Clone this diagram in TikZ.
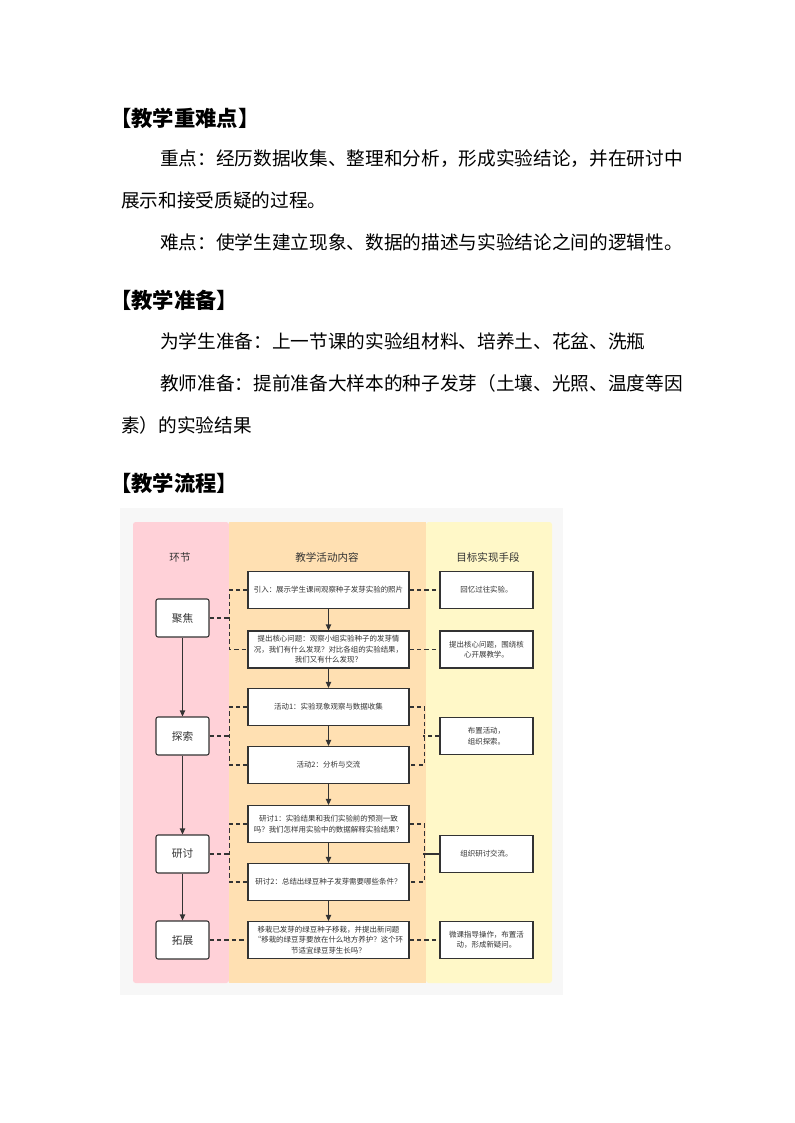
\documentclass[tikz,border=0pt]{standalone}
\usepackage{fontspec}
\setmainfont{Noto Sans CJK SC}
\usepackage{tikz}
\usetikzlibrary{arrows.meta}
\definecolor{pinkcol}{HTML}{FFD1D8}
\definecolor{peachcol}{HTML}{FFE0B2}
\definecolor{lemoncol}{HTML}{FFF8C8}
\definecolor{paneback}{HTML}{F7F7F7}
\definecolor{inkdark}{HTML}{333333}
\tikzset{
  heading/.style={anchor=west,inner sep=0pt,font=\fontsize{16}{16}\selectfont\bfseries},
  bodyline/.style={anchor=west,inner sep=0pt,font=\fontsize{14}{14}\selectfont},
  colhead/.style={inner sep=0pt,text=inkdark,font=\fontsize{7.9}{8}\selectfont},
  stagebox/.style={draw=inkdark,fill=white,rounded corners=1.5pt,line width=0.8pt,
    minimum width=39.75pt,minimum height=28.5pt,text=inkdark,font=\fontsize{8}{8}\selectfont},
  actbox/.style={draw=inkdark,fill=white,line width=0.8pt,align=center,inner sep=1pt,
    minimum width=120.75pt,minimum height=27.75pt,text=inkdark,font=\fontsize{5.6}{7.8}\selectfont},
  goalbox/.style={actbox,minimum width=69.75pt},
  flow/.style={-{Triangle[length=4.5pt,width=4pt]},inkdark,line width=0.8pt},
  link/.style={inkdark,line width=0.8pt,dash pattern=on 3.2pt off 2.4pt},
}

\begin{document}
\begin{tikzpicture}[x=0.75pt,y=-0.75pt]
  % pixel grid of the page, y runs down
  \useasboundingbox (0,0) rectangle (794,1123);
  \fill[white] (0,0) rectangle (794,1123);

  \node[heading] (hkey) at (110,118) {【教学重难点】};
  \node[bodyline] (key1) at (160,159) {重点：经历数据收集、整理和分析，形成实验结论，并在研讨中};
  \node[bodyline] (key2) at (121,200) {展示和接受质疑的过程。};
  \node[bodyline] (key3) at (160,242) {难点：使学生建立现象、数据的描述与实验结论之间的逻辑性。};
  \node[heading] (hprep) at (110,300) {【教学准备】};
  \node[bodyline] (prep1) at (160,341) {为学生准备：上一节课的实验组材料、培养土、花盆、洗瓶};
  \node[bodyline] (prep2) at (160,383) {教师准备：提前准备大样本的种子发芽（土壤、光照、温度等因};
  \node[bodyline] (prep3) at (121,425) {素）的实验结果};
  \node[heading] (hflow) at (110,483) {【教学流程】};

  % lanes
  \fill[paneback] (120,508) rectangle (563,995);
  \fill[pinkcol,rounded corners=2pt] (133,522) rectangle (229,983);
  \fill[peachcol] (229,522) rectangle (426,983);
  \fill[lemoncol,rounded corners=2pt] (426,522) rectangle (552,983);

  \node[colhead] (hstage) at (180,557) {环节};
  \node[colhead] (hact) at (327,557) {教学活动内容};
  \node[colhead] (hgoal) at (488,557) {目标实现手段};

  \node[stagebox] (s1) at (182.5,618) {聚焦};
  \node[stagebox] (s2) at (182.5,736) {探索};
  \node[stagebox] (s3) at (182.5,854) {研讨};
  \node[stagebox] (s4) at (182.5,940) {拓展};

  \node[actbox] (m1) at (328.5,590) {引入：展示学生课间观察种子发芽实验的照片};
  \node[actbox] (m2) at (328.5,649.5) {提出核心问题：观察小组实验种子的发芽情\\况，我们有什么发现？对比各组的实验结果，\\我们又有什么发现？};
  \node[actbox] (m3) at (328.5,707) {活动1：实验现象观察与数据收集};
  \node[actbox] (m4) at (328.5,765) {活动2：分析与交流};
  \node[actbox] (m5) at (328.5,824) {研讨1：实验结果和我们实验前的预测一致\\吗？我们怎样用实验中的数据解释实验结果？};
  \node[actbox] (m6) at (328.5,882) {研讨2：总结出绿豆种子发芽需要哪些条件？};
  \node[actbox] (m7) at (328.5,940) {移栽已发芽的绿豆种子移栽，并提出新问题\\“移栽的绿豆芽要放在什么地方养护？这个环\\节适宜绿豆芽生长吗？};

  \node[goalbox] (r1) at (486.5,590) {回忆过往实验。};
  \node[goalbox] (r2) at (486.5,649.5) {提出核心问题，围绕核\\心开展教学。};
  \node[goalbox] (r3) at (486.5,736) {布置活动，\\组织探索。};
  \node[goalbox] (r4) at (486.5,854) {组织研讨交流。};
  \node[goalbox] (r5) at (486.5,940) {微课指导操作，布置活\\动，形成新疑问。};

  \draw[flow] (s1) -- (s2);
  \draw[flow] (s2) -- (s3);
  \draw[flow] (s3) -- (s4);
  \foreach \a/\b in {m1/m2,m2/m3,m3/m4,m4/m5,m5/m6,m6/m7}
    \draw[flow] (\a) -- (\b);

  \draw[link] (s1.east) -- ++(20,0) coordinate (jbr);
  \draw[link] (m1.west) -| (jbr) |- (m2.west);
  \draw[link] (m1.east) -- (r1.west);
  \draw[link] (m2.east) -- (r2.west);

  \draw[link] (s2.east) -- ++(20,0) coordinate (tbr);
  \draw[link] (m3.west) -| (tbr) |- (m4.west);
  \draw[link] (m3.east) -- ++(15,0) |- (m4.east);
  \draw[link] (r3.west) -- ++(-16,0);

  \draw[link] (s3.east) -- ++(20,0) coordinate (ybr);
  \draw[link] (m5.west) -| (ybr) |- (m6.west);
  \draw[link] (m5.east) -- ++(15,0) |- (m6.east);
  \draw[inkdark,line width=0.8pt] (r4.west) -- ++(-16,0);

  \draw[link] (s4.east) -- (m7.west);
  \draw[link] (m7.east) -- (r5.west);
\end{tikzpicture}
\end{document}
